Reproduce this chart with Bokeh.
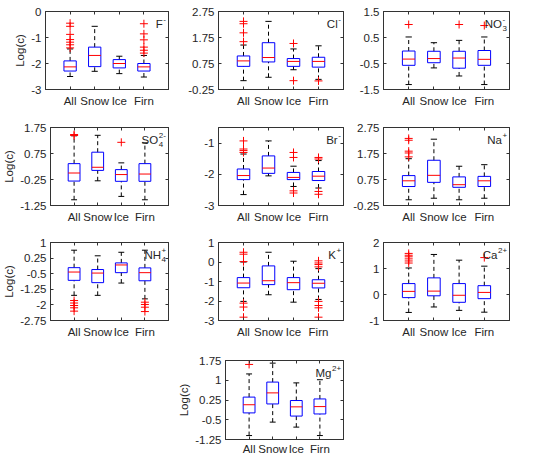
from bokeh.plotting import figure
from bokeh.models import LinearAxis, FixedTicker, Spacer, Range1d, CustomJSTickFormatter
from bokeh.layouts import row, column
from bokeh.embed import file_html
from bokeh.resources import INLINE
from bokeh.core.properties import value

groups = ["All", "Snow", "Ice", "Firn"]

# each box: (lower whisker, q1, median, q3, upper whisker); outliers per group
F_box = [(-2.50, -2.29, -2.13, -1.90, -1.44), (-2.30, -2.12, -1.69, -1.37, -0.57),
         (-2.39, -2.17, -2.00, -1.85, -1.72), (-2.52, -2.29, -2.13, -2.00, -1.69)]
F_out = [[-0.45, -0.57, -0.88, -1.08, -1.18, -1.28, -1.40], [], [],
         [-0.47, -0.86, -1.09, -1.37, -1.49, -1.60]]

Cl_box = [(0.09, 0.64, 0.85, 1.04, 1.46), (0.22, 0.81, 0.98, 1.55, 2.37),
          (0.51, 0.64, 0.83, 0.94, 1.31), (0.14, 0.61, 0.83, 0.99, 1.43)]
Cl_out = [[2.37, 2.28, 1.93, 1.59], [], [1.52, 0.09], [0.08]]

NO3_box = [(-1.31, -0.57, -0.33, -0.02, 0.52), (-0.67, -0.47, -0.31, -0.03, 0.30),
           (-0.98, -0.68, -0.29, -0.03, 0.39), (-1.31, -0.57, -0.34, 0.00, 0.52)]
NO3_out = [[1.00], [], [1.00], [0.96]]

SO4_box = [(-1.03, -0.31, 0.00, 0.36, 1.43), (-0.30, 0.10, 0.22, 0.80, 1.45),
           (-0.90, -0.32, -0.06, 0.13, 0.39), (-1.03, -0.32, -0.04, 0.36, 1.16)]
SO4_out = [[1.48, 1.44], [], [1.18], []]

Br_box = [(-2.65, -2.17, -2.04, -1.83, -1.35), (-2.05, -1.97, -1.80, -1.41, -0.93),
          (-2.39, -2.17, -2.10, -1.94, -1.74), (-2.44, -2.20, -2.06, -1.91, -1.56)]
Br_out = [[-0.93, -1.19, -1.24, -1.30], [], [-1.30, -1.46, -2.53, -2.60],
          [-1.46, -1.51, -2.55, -2.64]]

Na_box = [(-0.03, 0.48, 0.70, 0.90, 1.55), (0.03, 0.64, 0.91, 1.49, 2.30),
          (-0.03, 0.45, 0.55, 0.85, 1.26), (0.03, 0.48, 0.70, 0.87, 1.32)]
Na_out = [[2.33, 2.26, 1.84, 1.77, 1.62], [], [], []]

NH4_box = [(-1.54, -0.82, -0.42, -0.21, 0.63), (-1.54, -0.93, -0.47, -0.30, 0.36),
           (-0.95, -0.45, -0.08, 0.02, 0.53), (-1.71, -0.84, -0.45, -0.22, 0.63)]
NH4_out = [[-1.79, -1.91, -2.03, -2.14, -2.30], [], [], [-1.87, -1.98, -2.11, -2.32]]

K_box = [(-2.02, -1.32, -1.08, -0.80, 0.00), (-1.68, -1.16, -0.96, -0.20, 0.50),
         (-2.06, -1.42, -1.06, -0.80, 0.04), (-1.92, -1.33, -1.09, -0.91, -0.34)]
K_out = [[0.50, 0.40, 0.02, -2.11, -2.31, -2.83], [], [],
         [0.06, -0.05, -0.13, -0.25, -2.02, -2.23, -2.35, -2.83]]

Ca_box = [(-0.69, -0.12, 0.12, 0.42, 1.02), (-0.48, -0.05, 0.13, 0.64, 1.54),
          (-0.61, -0.30, -0.03, 0.42, 1.32), (-0.68, -0.16, 0.08, 0.34, 1.09)]
Ca_out = [[1.58, 1.51, 1.45, 1.37, 1.29, 1.21], [], [], [1.42]]

Mg_box = [(-1.10, -0.24, 0.07, 0.36, 1.24), (-0.59, 0.10, 0.52, 0.93, 1.65),
          (-0.78, -0.36, -0.01, 0.23, 0.90), (-1.10, -0.28, 0.00, 0.29, 1.02)]
Mg_out = [[1.60], [], [], []]

# y-axis ranges and ticks
F_ticks = [-3, -2, -1, 0]
Cl_ticks = [-0.25, 0.75, 1.75, 2.75]
NO3_ticks = [-1.5, -0.5, 0.5, 1.5]
SO4_ticks = [-1.25, -0.25, 0.75, 1.75]
Br_ticks = [-3, -2, -1]
Na_ticks = [-0.25, 0.75, 1.75, 2.75]
NH4_ticks = [-2.75, -2, -1.25, -0.5, 0.25, 1]
K_ticks = [-3, -2, -1, 0, 1]
Ca_ticks = [-1, 0, 1, 2]
Mg_ticks = [-1.25, -0.5, 0.25, 1, 1.75]

F_range = (-3, 0)
Cl_range = (-0.25, 2.75)
NO3_range = (-1.5, 1.5)
SO4_range = (-1.25, 1.75)
Br_range = (-3, -0.5)
Na_range = (-0.25, 2.75)
NH4_range = (-2.75, 1)
K_range = (-3, 1)
Ca_range = (-1, 2)
Mg_range = (-1.25, 1.75)

# ion labels: (base, superscript, subscript)
F_ion = ("F", "-", "")
Cl_ion = ("Cl", "-", "")
NO3_ion = ("NO", "-", "3")
SO4_ion = ("SO", "2-", "4")
Br_ion = ("Br", "-", "")
Na_ion = ("Na", "+", "")
NH4_ion = ("NH", "+", "4")
K_ion = ("K", "+", "")
Ca_ion = ("Ca", "2+", "")
Mg_ion = ("Mg", "2+", "")

FONT = "Liberation Sans"
AX = "#333333"
FS = "11.5px"


def small_width(s):
    w = 0.0
    for ch in s:
        w += 4.5 if ch.isdigit() or ch == "+" else 2.8
    return w


def panel(box, out, yr, ticks, ion, w, left, right, h, top, bottom, ylabel=False, xstand=5):
    p = figure(width=w, height=h, x_range=Range1d(0, 5), y_range=Range1d(*yr),
               output_backend="svg", toolbar_location=None,
               min_border_left=left, min_border_right=right,
               min_border_top=top, min_border_bottom=bottom)
    p.grid.visible = False
    p.outline_line_color = AX
    p.background_fill_color = "white"

    xa = p.xaxis[0]
    xa.ticker = FixedTicker(ticks=[1, 2, 3, 4])
    xa.major_label_overrides = {1: groups[0], 2: groups[1], 3: groups[2], 4: groups[3]}
    ya = p.yaxis[0]
    ya.ticker = FixedTicker(ticks=ticks)
    ya.formatter = CustomJSTickFormatter(code="return String(tick)")
    for a in (xa, ya):
        a.major_tick_in = 3
        a.major_tick_out = 0
        a.minor_tick_line_color = None
        a.axis_line_color = AX
        a.major_tick_line_color = AX
        a.major_label_text_font = FONT
        a.major_label_text_font_size = FS
        a.major_label_text_color = "#262626"
    xa.major_label_standoff = xstand
    ya.major_label_standoff = 4
    if ylabel:
        ya.axis_label = "Log(c)"
        ya.axis_label_text_font = FONT
        ya.axis_label_text_font_size = FS
        ya.axis_label_text_font_style = "normal"
        ya.axis_label_text_color = "#262626"
        ya.axis_label_standoff = 2

    blank = CustomJSTickFormatter(code="return ''")
    ra = LinearAxis(ticker=FixedTicker(ticks=ticks), formatter=blank,
                    major_tick_in=3, major_tick_out=0, minor_tick_line_color=None,
                    axis_line_color=AX, major_tick_line_color=AX, major_label_standoff=0)
    ta = LinearAxis(ticker=FixedTicker(ticks=[1, 2, 3, 4]), formatter=blank,
                    major_tick_in=3, major_tick_out=0, minor_tick_line_color=None,
                    axis_line_color=AX, major_tick_line_color=AX, major_label_standoff=0)
    p.add_layout(ra, "right")
    p.add_layout(ta, "above")

    xs = [1, 2, 3, 4]
    lo = [b[0] for b in box]
    q1 = [b[1] for b in box]
    md = [b[2] for b in box]
    q3 = [b[3] for b in box]
    hi = [b[4] for b in box]
    bw = 0.25
    cw = 0.125
    # whiskers
    p.segment(x0=xs, y0=q3, x1=xs, y1=hi, line_color="black", line_width=1, line_dash="4 3")
    p.segment(x0=xs, y0=lo, x1=xs, y1=q1, line_color="black", line_width=1, line_dash="4 3")
    # caps
    p.segment(x0=[x - cw for x in xs], y0=hi, x1=[x + cw for x in xs], y1=hi,
              line_color="black", line_width=1)
    p.segment(x0=[x - cw for x in xs], y0=lo, x1=[x + cw for x in xs], y1=lo,
              line_color="black", line_width=1)
    # boxes
    p.quad(left=[x - bw for x in xs], right=[x + bw for x in xs], bottom=q1, top=q3,
           fill_color=None, line_color="#0000ff", line_width=1)
    # medians
    p.segment(x0=[x - bw for x in xs], y0=md, x1=[x + bw for x in xs], y1=md,
              line_color="#ff0000", line_width=1)
    # outliers
    ox, oy = [], []
    for i, o in enumerate(out):
        ox += [xs[i]] * len(o)
        oy += list(o)
    if ox:
        p.scatter(ox, oy, marker="cross", size=8, line_color="#ff0000", line_width=1)

    base, sup, sub = ion
    sw = max(small_width(sup), small_width(sub))
    xo = -(3 + sw)
    p.text(x=[5], y=[yr[1]], text=[base], x_offset=xo, y_offset=12.5,
           text_align="right", text_baseline="alphabetic",
           text_font=value(FONT), text_font_size=FS, text_color="#262626")
    if sup:
        p.text(x=[5], y=[yr[1]], text=[sup], x_offset=xo + 0.5, y_offset=7.5,
               text_align="left", text_baseline="alphabetic",
               text_font=value(FONT), text_font_size="8px", text_color="#262626")
    if sub:
        p.text(x=[5], y=[yr[1]], text=[sub], x_offset=xo + 0.5, y_offset=17,
               text_align="left", text_baseline="alphabetic",
               text_font=value(FONT), text_font_size="8px", text_color="#262626")
    return p


# column geometry (width, left border, right border)
C1 = (175, 45, 7)
C2 = (175, 43, 7)
C3 = (190, 33, 31)
R1 = (115, 11, 26)
R2 = (115, 12, 25)
R3 = (115, 12, 25)
R4 = (112, 15, 18)

pF = panel(F_box, F_out, F_range, F_ticks, F_ion, *C1, *R1, ylabel=True)
pCl = panel(Cl_box, Cl_out, Cl_range, Cl_ticks, Cl_ion, *C2, *R1)
pNO3 = panel(NO3_box, NO3_out, NO3_range, NO3_ticks, NO3_ion, *C3, *R1)

pSO4 = panel(SO4_box, SO4_out, SO4_range, SO4_ticks, SO4_ion, *C1, *R2, ylabel=True)
pBr = panel(Br_box, Br_out, Br_range, Br_ticks, Br_ion, *C2, *R2)
pNa = panel(Na_box, Na_out, Na_range, Na_ticks, Na_ion, *C3, *R2)

pNH4 = panel(NH4_box, NH4_out, NH4_range, NH4_ticks, NH4_ion, *C1, *R3, ylabel=True)
pK = panel(K_box, K_out, K_range, K_ticks, K_ion, *C2, *R3)
pCa = panel(Ca_box, Ca_out, Ca_range, Ca_ticks, Ca_ion, *C3, *R3)

pMg = panel(Mg_box, Mg_out, Mg_range, Mg_ticks, Mg_ion, *C2, *R4, ylabel=True, xstand=3)

layout = column(
    row(pF, pCl, pNO3),
    row(pSO4, pBr, pNa),
    row(pNH4, pK, pCa),
    row(Spacer(width=175, height=112), pMg, Spacer(width=190, height=112)),
)

open("out.html", "w").write(file_html(layout, INLINE))
